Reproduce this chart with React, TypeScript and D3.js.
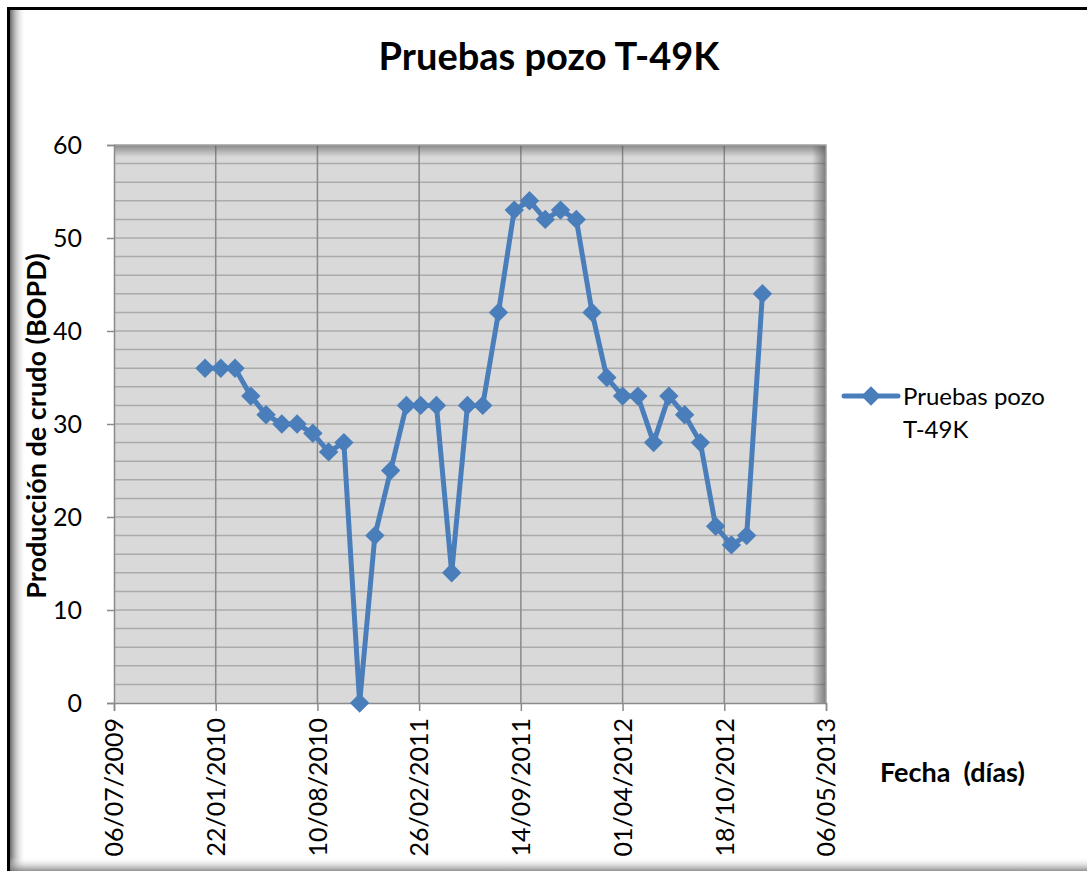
import React, { useEffect, useRef } from 'react';
import * as d3 from 'd3';

const W = 1087;
const H = 871;

// monthly tests, Jan 2010 - Jan 2013
const startMonth = new Date(2010, 0, 1);
const monthCount = 37;
const production = [
  36, 36, 36, 33, 31, 30, 30, 29, 27, 28,
  0, 18, 25, 32, 32, 32, 14, 32, 32, 42,
  53, 54, 52, 53, 52, 42, 35, 33, 33, 28,
  33, 31, 28, 19, 17, 18, 44,
];
const tickDates = [
  new Date(2009, 6, 6),
  new Date(2010, 0, 22),
  new Date(2010, 7, 10),
  new Date(2011, 1, 26),
  new Date(2011, 8, 14),
  new Date(2012, 3, 1),
  new Date(2012, 9, 18),
  new Date(2013, 4, 6),
];
const yTicks = [0, 10, 20, 30, 40, 50, 60];
const yMinor = [2, 4, 6, 8, 12, 14, 16, 18, 22, 24, 26, 28, 32, 34, 36, 38, 42, 44, 46, 48, 52, 54, 56, 58];

const seriesName = 'Pruebas pozo T-49K';
const FONT = 'Lato, "Open Sans", sans-serif';
const BLUE = '#4a7ebb';

const App = () => {
  const svgRef = useRef(null);

  useEffect(() => {
    const svg = d3.select(svgRef.current);
    svg.selectAll('*').remove();

    const dates = d3.range(monthCount).map(i => d3.timeMonth.offset(startMonth, i));
    const data = dates.map((d, i) => ({ date: d, value: production[i] }));

    const left = 114, right = 826, top = 145, bottom = 703;
    const x = d3.scaleTime().domain([tickDates[0], tickDates[tickDates.length - 1]]).range([left, right]);
    const y = d3.scaleLinear().domain([0, 60]).range([bottom, top]);

    const defs = svg.append('defs');
    const mkGrad = (id, x1, y1, x2, y2, stops) => {
      const g = defs.append('linearGradient').attr('id', id)
        .attr('x1', x1).attr('y1', y1).attr('x2', x2).attr('y2', y2);
      stops.forEach(s => g.append('stop').attr('offset', s[0]).attr('stop-color', s[1]).attr('stop-opacity', s[2]));
    };
    mkGrad('shTop', 0, 0, 0, 1, [[0, '#555', 0.6], [1, '#555', 0]]);
    mkGrad('shRight', 1, 0, 0, 0, [[0, '#555', 0.7], [1, '#555', 0]]);
    mkGrad('frLeft', 0, 0, 1, 0, [[0, '#444', 0.8], [1, '#fff', 0]]);
    mkGrad('frBottom', 0, 1, 0, 0, [[0, '#777', 0.8], [1, '#fff', 0]]);

    // outer frame
    svg.append('rect').attr('width', W).attr('height', H).attr('fill', '#fff');
    svg.append('rect').attr('x', 10).attr('y', 10).attr('width', 16).attr('height', H - 10).attr('fill', 'url(#frLeft)');
    svg.append('rect').attr('x', 10).attr('y', H - 14).attr('width', W - 10).attr('height', 14).attr('fill', 'url(#frBottom)');
    svg.append('path').attr('d', `M8.5,${H} V8.5 H${W}`).attr('fill', 'none').attr('stroke', '#000').attr('stroke-width', 3);

    // plot area
    svg.append('rect').attr('x', left).attr('y', top).attr('width', right - left).attr('height', bottom - top).attr('fill', '#d9d9d9');

    svg.append('g').selectAll('line').data(yMinor.concat(yTicks.slice(1, -1))).enter().append('line')
      .attr('x1', left).attr('x2', right).attr('y1', d => y(d)).attr('y2', d => y(d))
      .attr('stroke', '#ababab').attr('stroke-width', 1.5);

    svg.append('g').selectAll('line').data(tickDates.slice(1, -1)).enter().append('line')
      .attr('x1', d => x(d)).attr('x2', d => x(d)).attr('y1', top).attr('y2', bottom)
      .attr('stroke', '#8a8a8a').attr('stroke-width', 1.5);

    svg.append('rect').attr('x', left).attr('y', top).attr('width', right - left).attr('height', 12).attr('fill', 'url(#shTop)');
    svg.append('rect').attr('x', right - 14).attr('y', top).attr('width', 14).attr('height', bottom - top).attr('fill', 'url(#shRight)');
    svg.append('path').attr('d', `M${left},${top} H${right} V${bottom}`).attr('fill', 'none').attr('stroke', '#a0a0a0').attr('stroke-width', 1.5);

    // axes
    const yAxis = svg.append('g').attr('transform', `translate(${left},0)`)
      .call(d3.axisLeft(y).tickValues(yTicks).tickSize(7).tickPadding(25));
    yAxis.select('.domain').attr('stroke', '#8a8a8a').attr('stroke-width', 1.5);
    yAxis.selectAll('.tick line').attr('stroke', '#8a8a8a').attr('stroke-width', 1.5);
    yAxis.selectAll('text').attr('font-family', FONT).attr('font-size', 25).attr('fill', '#000');

    const fmt = d3.timeFormat('%d/%m/%Y');
    const xAxis = svg.append('g').attr('transform', `translate(0,${bottom})`)
      .call(d3.axisBottom(x).tickValues(tickDates).tickFormat(fmt).tickSize(8));
    xAxis.select('.domain').attr('stroke', '#8a8a8a').attr('stroke-width', 1.5);
    xAxis.selectAll('.tick line').attr('stroke', '#8a8a8a').attr('stroke-width', 1.5);
    xAxis.selectAll('text')
      .attr('font-family', FONT).attr('font-size', 25).attr('fill', '#000')
      .attr('transform', 'rotate(-90)')
      .attr('x', -15).attr('y', 0).attr('dy', '0.35em')
      .style('text-anchor', 'end');

    // series
    const line = d3.line().x(d => x(d.date)).y(d => y(d.value));
    svg.append('path').datum(data).attr('d', line)
      .attr('fill', 'none').attr('stroke', BLUE).attr('stroke-width', 5).attr('stroke-linejoin', 'round');

    const diamond = d3.symbol().type(d3.symbolDiamond2).size(240);
    svg.append('g').selectAll('path').data(data).enter().append('path')
      .attr('d', diamond)
      .attr('transform', d => `translate(${x(d.date)},${y(d.value)})`)
      .attr('fill', BLUE);

    // title and labels
    svg.append('text').attr('x', 549).attr('y', 70).attr('text-anchor', 'middle')
      .attr('font-family', FONT).attr('font-size', 38).attr('font-weight', 'bold').text('Pruebas pozo T-49K');

    svg.append('text').attr('transform', 'translate(46,426) rotate(-90)').attr('text-anchor', 'middle')
      .attr('font-family', FONT).attr('font-size', 27).attr('font-weight', 'bold').text('Producción de crudo (BOPD)');

    svg.append('text').attr('x', 880).attr('y', 782).attr('xml:space', 'preserve')
      .attr('font-family', FONT).attr('font-size', 27).attr('font-weight', 'bold').text('Fecha  (días)');

    // legend
    const lg = svg.append('g');
    lg.append('line').attr('x1', 844).attr('x2', 898).attr('y1', 396).attr('y2', 396)
      .attr('stroke', BLUE).attr('stroke-width', 5).attr('stroke-linecap', 'round');
    lg.append('path').attr('d', diamond).attr('transform', 'translate(871,396)').attr('fill', BLUE);
    const words = seriesName.split(' ');
    const lt = lg.append('text').attr('font-family', FONT).attr('font-size', 24).attr('fill', '#000');
    lt.append('tspan').attr('x', 903).attr('y', 405).text(words.slice(0, 2).join(' '));
    lt.append('tspan').attr('x', 903).attr('y', 438).text(words[2]);
  }, []);

  return (
    <svg ref={svgRef} width={W} height={H} style={{ position: 'absolute', left: 0, top: 0 }}></svg>
  );
};

export default App;
